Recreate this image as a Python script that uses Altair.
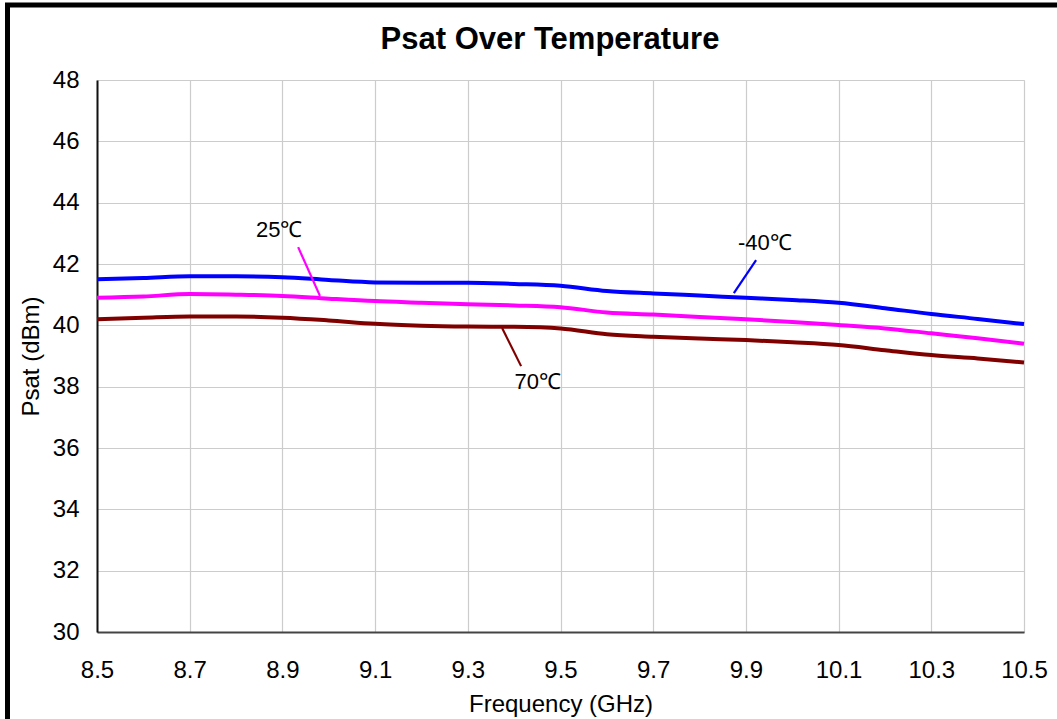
import altair as alt
import pandas as pd

# ---- data ----
freq = [8.5, 8.6, 8.7, 8.8, 8.9, 9.0, 9.1, 9.2, 9.3, 9.4, 9.5,
        9.6, 9.7, 9.8, 9.9, 10.0, 10.1, 10.2, 10.3, 10.4, 10.5]
psat_m40 = [41.50, 41.54, 41.60, 41.60, 41.57, 41.48, 41.40, 41.39, 41.39, 41.35, 41.29,
            41.12, 41.04, 40.97, 40.90, 40.83, 40.74, 40.56, 40.37, 40.21, 40.04]
psat_25 = [40.90, 40.94, 41.02, 41.00, 40.96, 40.87, 40.79, 40.74, 40.69, 40.65, 40.59,
           40.42, 40.35, 40.27, 40.20, 40.11, 40.01, 39.90, 39.74, 39.58, 39.40]
psat_70 = [40.20, 40.25, 40.29, 40.29, 40.25, 40.16, 40.05, 39.99, 39.96, 39.95, 39.90,
           39.71, 39.63, 39.57, 39.52, 39.45, 39.36, 39.19, 39.03, 38.92, 38.79]

series_names = ["-40℃", "25℃", "70℃"]
series_colors = ["#0000FF", "#FF00FF", "#800000"]

# annotation labels and leader lines
label_text = ["25℃", "-40℃", "70℃"]
label_x = [8.893, 9.941, 9.451]
label_y = [43.11, 42.69, 38.15]
leader_x1 = [8.934, 9.922, 9.374]
leader_y1 = [42.55, 42.13, 39.91]
leader_x2 = [8.981, 9.874, 9.415]
leader_y2 = [40.96, 41.05, 38.67]
leader_series = ["25℃", "-40℃", "70℃"]

x_ticks = [8.5, 8.7, 8.9, 9.1, 9.3, 9.5, 9.7, 9.9, 10.1, 10.3, 10.5]
y_ticks = [30, 32, 34, 36, 38, 40, 42, 44, 46, 48]

chart_title = ["Psat Over Temperature"]

FONT = "Liberation Sans"

rows = []
for name, vals in zip(series_names, [psat_m40, psat_25, psat_70]):
    for f, v in zip(freq, vals):
        rows.append({"freq": f, "psat": v, "series": name})
df = pd.DataFrame(rows)

ann = pd.DataFrame({"text": label_text, "x": label_x, "y": label_y})
lead = pd.DataFrame({"x1": leader_x1, "y1": leader_y1, "x2": leader_x2,
                     "y2": leader_y2, "series": leader_series})

xscale = alt.Scale(domain=[8.5, 10.5], nice=False, zero=False)
yscale = alt.Scale(domain=[30, 48], nice=False, zero=False)
cscale = alt.Scale(domain=series_names, range=series_colors)

lines = alt.Chart(df).mark_line(strokeWidth=4, interpolate="monotone").encode(
    x=alt.X("freq:Q", scale=xscale,
            axis=alt.Axis(values=x_ticks, format=".1f", title="Frequency (GHz)",
                          labelFontSize=24, titleFontSize=24, labelFont=FONT, titleFont=FONT,
                          titleFontWeight="normal", labelColor="#000", titleColor="#000",
                          ticks=False, labelPadding=26, titlePadding=10, labelFlush=False,
                          domainColor="#444", domainWidth=2, gridColor="#cccccc",
                          gridWidth=1.2)),
    y=alt.Y("psat:Q", scale=yscale,
            axis=alt.Axis(values=y_ticks, title="Psat (dBm)",
                          labelFontSize=24, titleFontSize=24, labelFont=FONT, titleFont=FONT,
                          titleFontWeight="normal", labelColor="#000", titleColor="#000",
                          ticks=False, labelPadding=18, titlePadding=9,
                          domainColor="#111", domainWidth=2, gridColor="#cccccc",
                          gridWidth=1.2)),
    color=alt.Color("series:N", scale=cscale, legend=None),
)

leaders = alt.Chart(lead).mark_rule(strokeWidth=2.2).encode(
    x="x1:Q", y="y1:Q", x2="x2:Q", y2="y2:Q",
    color=alt.Color("series:N", scale=cscale, legend=None),
)

labels = alt.Chart(ann).mark_text(font=FONT, fontSize=22, color="#000",
                                  align="center", baseline="middle").encode(
    x="x:Q", y="y:Q", text="text:N",
)

title_mark = alt.Chart(pd.DataFrame({"t": chart_title})).mark_text(
    font=FONT, fontSize=31, fontWeight="bold", color="#000",
    align="center", baseline="middle"
).encode(x=alt.value(453), y=alt.value(-40), text="t:N")

frame = alt.Chart(pd.DataFrame({"k": [0]})).mark_rect(
    fill=None, stroke="#000", strokeWidth=5
).encode(
    x=alt.value(-89.5), x2=alt.value(1100), y=alt.value(-75), y2=alt.value(800),
)

chart = alt.layer(lines, leaders, labels, title_mark, frame).properties(
    width=927, height=552,
    autosize=alt.AutoSizeParams(type="none"),
    padding={"left": 97, "top": 80, "right": 33, "bottom": 87},
).configure_view(stroke="#888888", strokeWidth=1.5).configure(background="white")

chart.save("out.html", embed_options={"renderer": "svg", "actions": False})
